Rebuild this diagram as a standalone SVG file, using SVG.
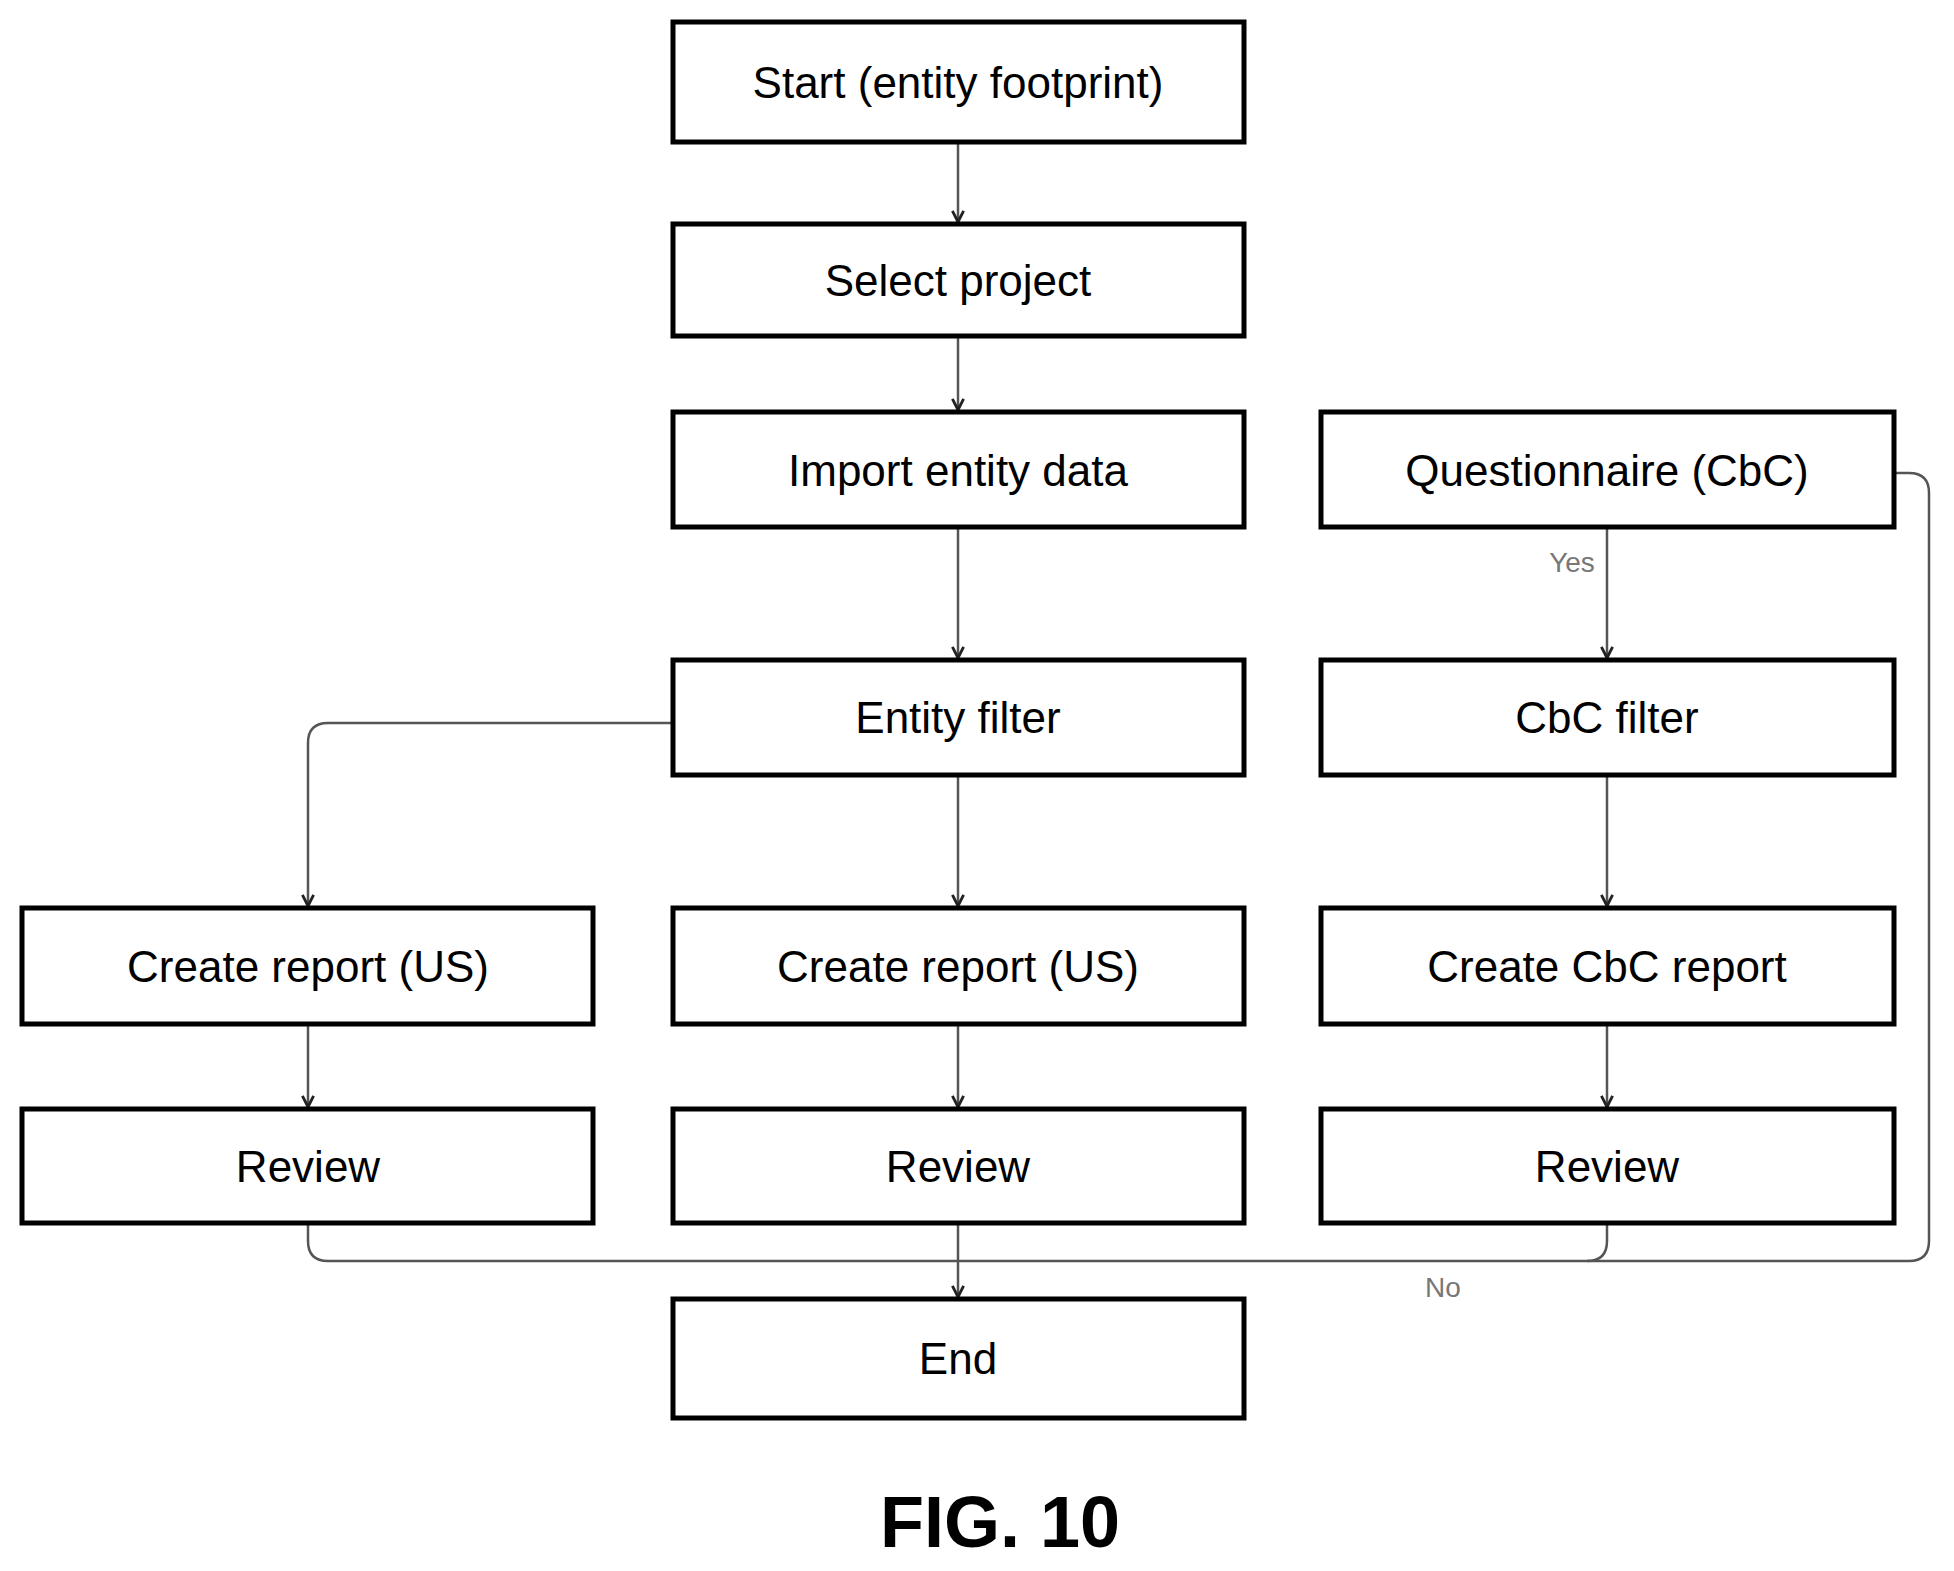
<svg xmlns="http://www.w3.org/2000/svg" width="1954" height="1571" viewBox="0 0 1954 1571">
<style>
.b{fill:#fff;stroke:#000;stroke-width:5}
.t{font-family:"Liberation Sans",Arial,sans-serif;font-size:44px;text-anchor:middle;dominant-baseline:central;fill:#000}
.c{fill:none;stroke:#555;stroke-width:2.5}
.l{font-family:"Liberation Sans",Arial,sans-serif;font-size:28px;fill:#777;text-anchor:middle}
</style>
<defs><marker id="a" viewBox="0 0 20 20" refX="18" refY="10" markerWidth="14" markerHeight="14" markerUnits="userSpaceOnUse" orient="auto"><path d="M2,2 L18,10 L2,18" fill="none" stroke="#222" stroke-width="4"/></marker></defs>
<rect width="1954" height="1571" fill="#fff"/>
<g id="connectors">
<path class="c" marker-end="url(#a)" d="M958,142V222"/>
<path class="c" marker-end="url(#a)" d="M958,336V410"/>
<path class="c" marker-end="url(#a)" d="M958,527V658"/>
<path class="c" marker-end="url(#a)" d="M958,775V906"/>
<path class="c" marker-end="url(#a)" d="M958,1024V1107"/>
<path class="c" marker-end="url(#a)" d="M673,723H328Q308,723 308,743V906"/>
<path class="c" marker-end="url(#a)" d="M308,1024V1107"/>
<path class="c" marker-end="url(#a)" d="M1607,527V658"/>
<path class="c" marker-end="url(#a)" d="M1607,775V906"/>
<path class="c" marker-end="url(#a)" d="M1607,1024V1107"/>
<path class="c" d="M308,1223V1241Q308,1261 328,1261H1587Q1607,1261 1607,1241V1223"/>
<path class="c" marker-end="url(#a)" d="M958,1223V1297"/>
<path class="c" d="M1894,473H1909Q1929,473 1929,493V1241Q1929,1261 1909,1261H1587"/>
<text class="l" x="1572" x2="0" y="572">Yes</text>
<text class="l" x="1443" y="1297">No</text>
</g>
<g id="start"><rect class="b" x="673" y="22" width="571" height="120"/><text class="t" x="958" y="82">Start (entity footprint)</text></g>
<g id="select"><rect class="b" x="673" y="224" width="571" height="112"/><text class="t" x="958" y="280">Select project</text></g>
<g id="import"><rect class="b" x="673" y="412" width="571" height="115"/><text class="t" x="958" y="470">Import entity data</text></g>
<g id="quest"><rect class="b" x="1321" y="412" width="573" height="115"/><text class="t" x="1607" y="470">Questionnaire (CbC)</text></g>
<g id="efilter"><rect class="b" x="673" y="660" width="571" height="115"/><text class="t" x="958" y="717">Entity filter</text></g>
<g id="cfilter"><rect class="b" x="1321" y="660" width="573" height="115"/><text class="t" x="1607" y="717">CbC filter</text></g>
<g id="rep1"><rect class="b" x="22" y="908" width="571" height="116"/><text class="t" x="308" y="966">Create report (US)</text></g>
<g id="rep2"><rect class="b" x="673" y="908" width="571" height="116"/><text class="t" x="958" y="966">Create report (US)</text></g>
<g id="rep3"><rect class="b" x="1321" y="908" width="573" height="116"/><text class="t" x="1607" y="966">Create CbC report</text></g>
<g id="rev1"><rect class="b" x="22" y="1109" width="571" height="114"/><text class="t" x="308" y="1166">Review</text></g>
<g id="rev2"><rect class="b" x="673" y="1109" width="571" height="114"/><text class="t" x="958" y="1166">Review</text></g>
<g id="rev3"><rect class="b" x="1321" y="1109" width="573" height="114"/><text class="t" x="1607" y="1166">Review</text></g>
<g id="end"><rect class="b" x="673" y="1299" width="571" height="119"/><text class="t" x="958" y="1358">End</text></g>
<text x="1000" y="1547" font-family="Liberation Sans,Arial,sans-serif" font-size="72" font-weight="bold" text-anchor="middle">FIG. 10</text>
</svg>
